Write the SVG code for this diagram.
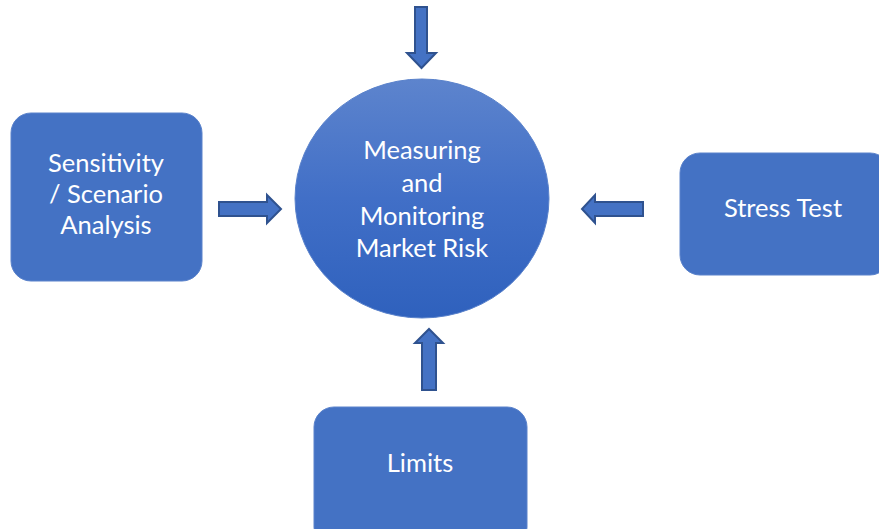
<svg xmlns="http://www.w3.org/2000/svg" width="879" height="529" viewBox="0 0 879 529">
<defs>
<linearGradient id="cg" x1="0" y1="0" x2="0" y2="1">
<stop offset="0" stop-color="#5d84cd"/>
<stop offset="0.5" stop-color="#416fc7"/>
<stop offset="1" stop-color="#2f61bd"/>
</linearGradient>
<style>
.box{fill:#4472c4;stroke:#5a82cb;stroke-width:1}
.arr{fill:#4472c4;stroke:#2f528f;stroke-width:2;stroke-linejoin:miter}
.t{font-family:Lato,"Open Sans","Liberation Sans",sans-serif;font-size:25.5px;fill:#ffffff;text-anchor:middle}
</style>
</defs>
<rect width="879" height="529" fill="#ffffff"/>
<g id="center">
<ellipse cx="422" cy="198.5" rx="127" ry="119.5" fill="url(#cg)" stroke="#5a82cb" stroke-width="1"/>
<text class="t" x="422" y="159">Measuring</text>
<text class="t" x="422" y="192">and</text>
<text class="t" x="422" y="225">Monitoring</text>
<text class="t" x="422" y="257">Market Risk</text>
</g>
<g id="sensitivity">
<rect class="box" x="11" y="113" width="191" height="168" rx="20"/>
<text class="t" x="106" y="172">Sensitivity</text>
<text class="t" x="106" y="203">/ Scenario</text>
<text class="t" x="106" y="234">Analysis</text>
</g>
<g id="stress">
<rect class="box" x="680" y="153" width="210" height="122" rx="20"/>
<text class="t" x="783" y="217">Stress Test</text>
</g>
<g id="limits">
<rect class="box" x="314" y="407" width="213" height="140" rx="20"/>
<text class="t" x="420" y="472">Limits</text>
</g>
<g id="connectors">
<path class="arr" d="M415,7 H427 V53 H436 L421.5,68 L407,53 H415 Z"/>
<path class="arr" d="M219,202 H267 V195 L281,209 L267,223 V216 H219 Z"/>
<path class="arr" d="M643,202 H595 V195 L582,209 L595,223 V216 H643 Z"/>
<path class="arr" d="M422,390 V343 H415 L429,329 L443,343 H436 V390 Z"/>
</g>
</svg>
